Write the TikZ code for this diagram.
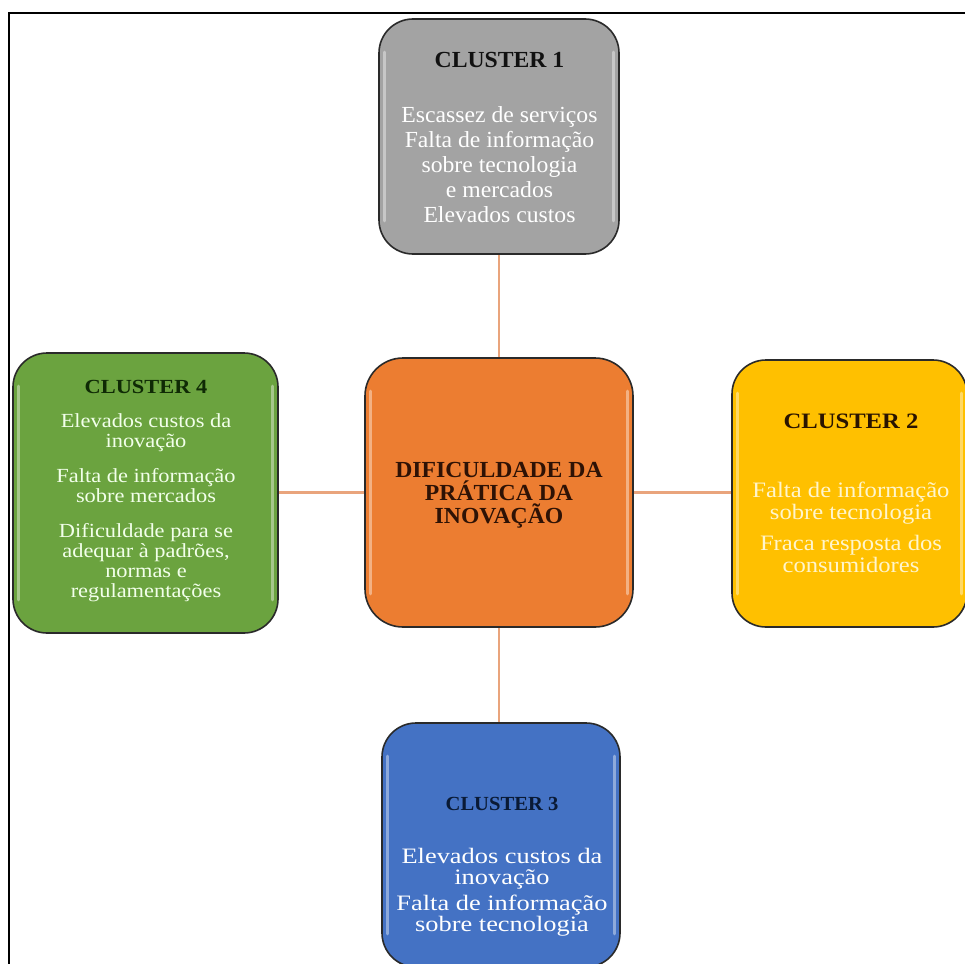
\documentclass[tikz,border=0pt]{standalone}
\usepackage{fontspec}
\setmainfont{Liberation Serif}
\newfontfamily\stA[FakeStretch=1.03]{Liberation Serif}
\newfontfamily\stB[FakeStretch=1.12]{Liberation Serif}
\newfontfamily\stC[FakeStretch=1.2]{Liberation Serif}
\usetikzlibrary{calc}
\definecolor{cgray}{HTML}{A3A3A3}
\definecolor{corange}{HTML}{EC7D31}
\definecolor{cgreen}{HTML}{6BA33F}
\definecolor{cyellow}{HTML}{FFC000}
\definecolor{cblue}{HTML}{4472C4}
\definecolor{cline}{HTML}{E9A47C}
\definecolor{bline}{HTML}{2A2A2A}
\definecolor{tgray}{HTML}{111111}
\definecolor{tgreen}{HTML}{0F2A05}
\definecolor{tyellow}{HTML}{2A1400}
\definecolor{tblue}{HTML}{0A1A35}
\definecolor{torange}{HTML}{2E1205}
\definecolor{byellow}{HTML}{FFF5CC}
\definecolor{bgreen}{HTML}{F2FFEA}
\tikzset{
  clbox/.style={draw=bline, line width=1.6pt, rounded corners=34pt, inner sep=0pt},
  conn/.style={draw=cline, line width=2.2pt},
  gloss/.style={draw=white, opacity=.4, line width=3pt, line cap=round},
  txt/.style={anchor=north, inner sep=0pt, align=center}
}
\begin{document}
\begin{tikzpicture}[x=1pt,y=-1pt]
\useasboundingbox (0,0) rectangle (965,963);
\clip (0,0) rectangle (965,963);
\fill[white] (0,0) rectangle (965,963);
% frame
\draw[line width=2.5pt] (9,1000) -- (9,13) -- (1000,13);

% boxes
\node[clbox, fill=cgray, minimum width=240pt, minimum height=235pt] (c1) at (499,136.5) {};
\node[clbox, fill=corange, minimum width=268pt, minimum height=269pt, rounded corners=38pt] (ctr) at (499,492.5) {};
\node[clbox, fill=cgreen, minimum width=265pt, minimum height=280pt] (c4) at (145.5,493) {};
\node[clbox, fill=cyellow, minimum width=235pt, minimum height=267pt] (c2) at (849.5,493.5) {};
\node[clbox, fill=cblue, minimum width=238pt, minimum height=244pt] (c3) at (501,845) {};

% gloss highlights on the vertical sides
\foreach \b in {c1,ctr,c4,c2,c3}{
  \draw[gloss] ($(\b.north west)+(6,34)$) -- ($(\b.south west)+(6,-34)$);
  \draw[gloss] ($(\b.north east)+(-6,34)$) -- ($(\b.south east)+(-6,-34)$);
}

% connectors
\draw[conn] (c1.south -| ctr.north) -- (ctr.north);
\draw[conn] (ctr.south) -- (ctr.south |- c3.north);
\draw[conn] (c4.east |- ctr.west) -- (ctr.west);
\draw[conn] (ctr.east) -- (ctr.east -| c2.west);

% texts
\node[txt, font=\stA\fontsize{23}{25}\selectfont, text=white] (t1) at (499.5,52)
  {{\color{tgray}\bfseries CLUSTER 1}\\[30pt]
   Escassez de serviços\\ Falta de informação\\ sobre tecnologia\\ e mercados\\ Elevados custos};

\node[txt, font=\stA\fontsize{23}{23}\selectfont\bfseries, text=torange] (t0) at (499,462)
  {DIFICULDADE DA\\ PRÁTICA DA\\ INOVAÇÃO};

\node[txt, font=\stB\fontsize{20}{20}\selectfont, text=bgreen] (t4) at (146,380)
  {{\color{tgreen}\bfseries CLUSTER 4}\\[14pt]
   Elevados custos da\\ inovação\\[15pt]
   Falta de informação\\ sobre mercados\\[15pt]
   Dificuldade para se\\ adequar à padrões,\\ normas e\\ regulamentações};

\node[txt, font=\stB\fontsize{22}{22}\selectfont, text=byellow] (t2) at (851,413.5)
  {{\color{tyellow}\bfseries CLUSTER 2}\\[47pt]
   Falta de informação\\ sobre tecnologia\\[9pt]
   Fraca resposta dos\\ consumidores};

\node[txt, font=\stC\fontsize{22}{21}\selectfont, text=white] (t3) at (502,797)
  {{\stA\fontsize{20}{21}\selectfont\color{tblue}\bfseries CLUSTER 3}\\[32pt]
   Elevados custos da\\ inovação\\[5pt]
   Falta de informação\\ sobre tecnologia};
\end{tikzpicture}
\end{document}
